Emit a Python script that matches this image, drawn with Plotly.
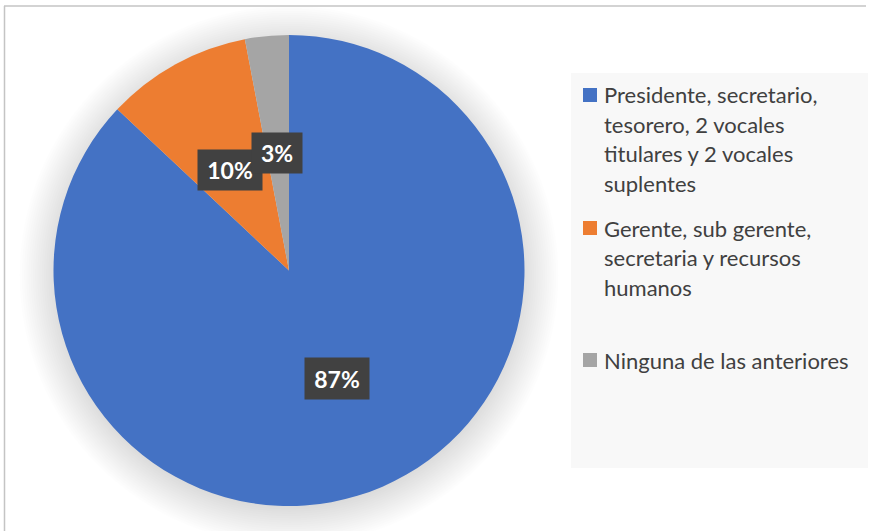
import plotly.graph_objects as go

# Composición de la directiva
categories = [
    "Presidente, secretario,<br>tesorero, 2 vocales<br>titulares y 2 vocales<br>suplentes",
    "Gerente, sub gerente,<br>secretaria y recursos<br>humanos",
    "Ninguna de las anteriores",
]
values = [87, 10, 3]
colors = ["#4472C4", "#ED7D31", "#A5A5A5"]

W, H = 869, 531
FONT = "Lato"


def px(x):
    return x / W


def py(y):
    return 1 - y / H


# Pie geometry (pixels)
cx, cy, r = 289, 270.5, 235.5

fig = go.Figure(
    go.Pie(
        labels=[c.replace("<br>", " ") for c in categories],
        values=values,
        marker=dict(colors=colors, line=dict(width=0)),
        sort=False,
        direction="clockwise",
        rotation=0,
        textinfo="none",
        hoverinfo="label+percent",
        showlegend=False,
        domain=dict(x=[px(cx - r), px(cx + r)], y=[py(cy + r), py(cy - r)]),
    )
)

shapes = []

# Soft shadow under the pie
for k in range(18):
    rr = r + 34 - k * 2.2
    shapes.append(dict(
        type="circle", layer="below", xref="paper", yref="paper",
        xsizemode="pixel", ysizemode="pixel",
        xanchor=px(cx), yanchor=py(cy + 5),
        x0=-rr, x1=rr, y0=-rr, y1=rr,
        fillcolor="rgba(0,0,0,0.009)", line=dict(width=0),
    ))

# Legend panel
shapes.append(dict(
    type="rect", layer="below", xref="paper", yref="paper",
    x0=px(571), x1=px(868), y0=py(468), y1=py(73),
    fillcolor="#F8F8F8", line=dict(width=0),
))

# Chart frame (top and left edges)
shapes.append(dict(type="line", xref="paper", yref="paper",
                   x0=px(4), x1=px(866), y0=py(6), y1=py(6),
                   line=dict(color="#C4C4C4", width=1.5)))
shapes.append(dict(type="line", xref="paper", yref="paper",
                   x0=px(4.5), x1=px(4.5), y0=py(6), y1=py(531),
                   line=dict(color="#C4C4C4", width=1.5)))

annotations = []

# Legend entries
item_tops = [95, 228, 360]
line_gap = 29.5
for label, color, y0 in zip(categories, colors, item_tops):
    shapes.append(dict(
        type="rect", xref="paper", yref="paper",
        x0=px(583), x1=px(597), y0=py(y0 + 7), y1=py(y0 - 7),
        fillcolor=color, line=dict(width=0),
    ))
    for i, line in enumerate(label.split("<br>")):
        annotations.append(dict(
            x=px(602), y=py(y0 + i * line_gap), xref="paper", yref="paper",
            xanchor="left", yanchor="middle", showarrow=False, text=line,
            font=dict(family=FONT, size=22, color="#404040"),
        ))

# Data labels
label_pos = [(337, 378, 64, 41), (230, 170, 64, 40), (277, 153, 50, 40)]
for v, (lx, ly, bw, bh) in zip(values, label_pos):
    pct = round(100 * v / sum(values))
    annotations.append(dict(
        x=px(lx), y=py(ly), xref="paper", yref="paper",
        xanchor="center", yanchor="middle", showarrow=False,
        text=f"<b>{pct}%</b>", width=bw, height=bh, borderpad=0,
        bgcolor="#414141",
        font=dict(family=FONT, size=23, color="#FFFFFF"),
    ))

fig.update_layout(
    width=W, height=H,
    margin=dict(l=0, r=0, t=0, b=0),
    paper_bgcolor="#FFFFFF",
    plot_bgcolor="#FFFFFF",
    shapes=shapes,
    annotations=annotations,
)

fig.write_html("out.html")
